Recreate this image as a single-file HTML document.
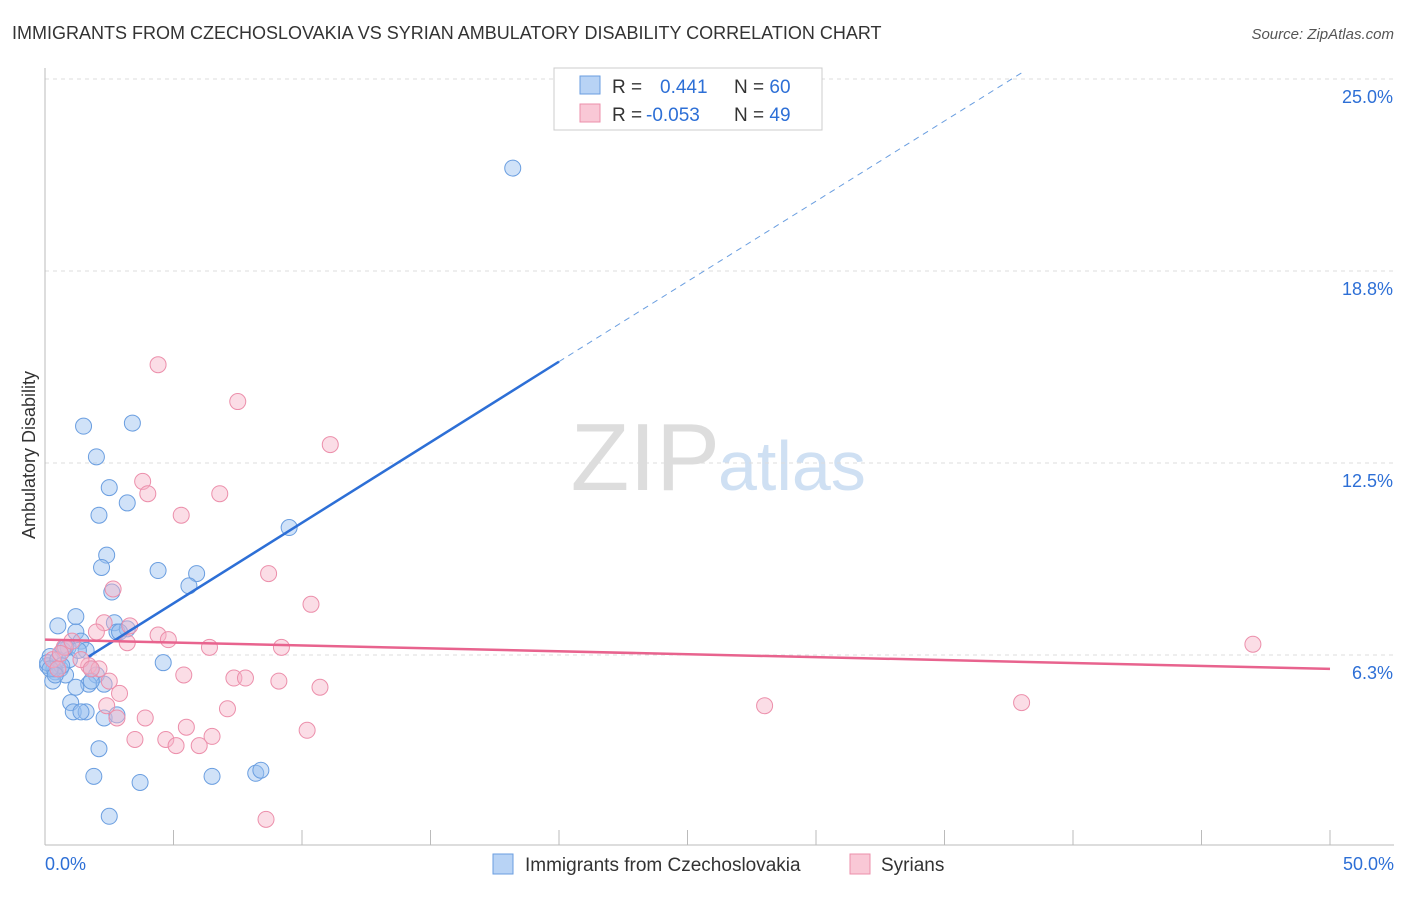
<!DOCTYPE html>
<html><head><meta charset="utf-8"><style>
body{margin:0;background:#fff;font-family:"Liberation Sans",sans-serif;}
svg text{font-family:"Liberation Sans",sans-serif;}
</style></head><body>
<svg id="c" width="1406" height="892">
<text x="12" y="39" font-size="18" fill="#333">IMMIGRANTS FROM CZECHOSLOVAKIA VS SYRIAN AMBULATORY DISABILITY CORRELATION CHART</text>
<text x="1394" y="39" font-size="15" fill="#555" font-style="italic" text-anchor="end">Source: ZipAtlas.com</text>
<text x="35" y="455" font-size="18" fill="#333" text-anchor="middle" transform="rotate(-90 35 455)">Ambulatory Disability</text>
<text x="720" y="490" font-size="96" fill="#ddd" text-anchor="end" font-family="Liberation Serif">ZIP</text>
<text x="718" y="490" font-size="70" fill="#cfe0f3">atlas</text>
<g id="grid"></g><g id="pts"></g><g id="lines"></g>
<g>
<rect x="554" y="68" width="268" height="62" fill="#fff" stroke="#ccc"/>
<rect x="580" y="76" width="20" height="18" fill="#b8d3f5" stroke="#6a9ee0"/>
<rect x="580" y="104" width="20" height="18" fill="#f9c8d6" stroke="#ec8fab"/>
<text x="612" y="93" font-size="19" fill="#333">R = <tspan fill="#2d6fd6" x="660">0.441</tspan><tspan x="734">N = </tspan><tspan fill="#2d6fd6">60</tspan></text>
<text x="612" y="121" font-size="19" fill="#333">R = <tspan fill="#2d6fd6" x="646">-0.053</tspan><tspan x="734">N = </tspan><tspan fill="#2d6fd6">49</tspan></text>
</g>
<g>
<rect x="493" y="854" width="20" height="20" fill="#b8d3f5" stroke="#6a9ee0"/>
<text x="525" y="871" font-size="19" fill="#333">Immigrants from Czechoslovakia</text>
<rect x="850" y="854" width="20" height="20" fill="#f9c8d6" stroke="#ec8fab"/>
<text x="881" y="871" font-size="19" fill="#333">Syrians</text>
</g>
</svg>
<script>
const yTicks=[6.25,12.5,18.75,25];
const yTickLabels=["6.3%","12.5%","18.8%","25.0%"];
const xTickLabels=["0.0%","50.0%"];
const blueX=[18.2,1.5,3.4,2.0,2.5,2.1,3.2,9.5,2.4,2.2,4.4,5.9,2.6,5.6,1.2,0.5,2.7,2.8,3.2,1.2,1.4,0.9,1.6,0.7,0.2,0.1,0.6,1.8,2.0,0.4,0.8,0.3,1.7,2.3,1.2,4.6,1.0,1.1,1.6,1.4,2.3,2.8,2.1,1.9,3.7,6.5,8.2,8.4,2.5,0.35,0.1,0.5,0.95,0.8,1.3,0.65,0.2,0.4,1.8,2.9];
const blueY=[22.1,13.7,13.8,12.7,11.7,10.8,11.2,10.4,9.5,9.1,9.0,8.9,8.3,8.5,7.5,7.2,7.3,7.0,7.1,7.0,6.7,6.5,6.4,6.4,6.2,5.9,5.8,5.8,5.6,5.7,5.6,5.4,5.3,5.3,5.2,6.0,4.7,4.4,4.4,4.4,4.2,4.3,3.2,2.3,2.1,2.3,2.4,2.5,1.0,5.8,6.0,6.1,6.1,6.5,6.4,5.9,5.8,5.6,5.4,7.0];
const pinkX=[4.4,7.5,11.1,3.8,4.0,6.8,5.3,8.7,10.35,2.65,2.3,3.3,2.0,4.4,4.8,3.2,6.4,9.2,0.75,1.05,47.0,1.7,5.4,7.35,7.8,9.1,10.7,2.9,2.4,7.1,28.0,38.0,3.9,2.8,5.5,10.2,3.5,4.7,5.1,6.0,6.5,8.6,0.3,0.5,2.1,1.4,1.8,0.6,2.5];
const pinkY=[15.7,14.5,13.1,11.9,11.5,11.5,10.8,8.9,7.9,8.4,7.3,7.2,7.0,6.9,6.75,6.65,6.5,6.5,6.5,6.7,6.6,5.9,5.6,5.5,5.5,5.4,5.2,5.0,4.6,4.5,4.6,4.7,4.2,4.2,3.9,3.8,3.5,3.5,3.3,3.3,3.6,0.9,6.1,5.8,5.8,6.1,5.8,6.3,5.4];
const blueLine=[[1.7,6.2],[20,15.8],[38,25.2]];
const pinkLine=[[0,6.75],[50,5.8]];
const X=v=>45+v*25.7, Y=v=>847-v*30.72;
const NS="http://www.w3.org/2000/svg";
function mk(p,t,a){const e=document.createElementNS(NS,t);for(const k in a)e.setAttribute(k,a[k]);document.getElementById(p).appendChild(e);return e;}
yTicks.forEach((t,i)=>{
 const l=mk('grid','line',{x1:45,x2:1394,y1:Y(t),y2:Y(t),stroke:'#ddd','stroke-dasharray':'4,4'});
 
 
 const tx=mk('grid','text',{x:1393,y:Y(t)+24,'font-size':18,fill:'#2d6fd6','text-anchor':'end'});
 tx.textContent=yTickLabels[i];
 
 
});
const ax=mk('grid','line',{x1:45,x2:45,y1:68,y2:845,stroke:'#bbb'});


const bx=mk('grid','line',{x1:45,x2:1394,y1:845,y2:845,stroke:'#bbb'});


for(let i=0;i<=10;i++){const t=mk('grid','line',{x1:X(i*5),x2:X(i*5),y1:830,y2:845,stroke:'#bbb'});
 
 }
[[0,'start',45],[50,'end',1394]].forEach((d,i)=>{const t=mk('grid','text',{x:d[2],y:870,'font-size':18,fill:'#2d6fd6','text-anchor':d[1]});t.textContent=xTickLabels[i];
 
 });
blueX.forEach((v,i)=>{const c=mk('pts','circle',{cx:X(v),cy:Y(blueY[i]),r:8,fill:'rgba(150,190,240,0.45)',stroke:'#6a9ee0','stroke-width':1});
 
 });
pinkX.forEach((v,i)=>{const c=mk('pts','circle',{cx:X(v),cy:Y(pinkY[i]),r:8,fill:'rgba(247,180,200,0.45)',stroke:'#ec8fab','stroke-width':1});
 
 });
const b1=mk('lines','line',{x1:X(blueLine[0][0]),y1:Y(blueLine[0][1]),x2:X(blueLine[1][0]),y2:Y(blueLine[1][1]),stroke:'#2d6fd6','stroke-width':2.5});


const b2=mk('lines','line',{x1:X(blueLine[1][0]),y1:Y(blueLine[1][1]),x2:X(blueLine[2][0]),y2:Y(blueLine[2][1]),stroke:'#6a9ee0','stroke-width':1,'stroke-dasharray':'6,5'});


const p1=mk('lines','line',{x1:X(pinkLine[0][0]),y1:Y(pinkLine[0][1]),x2:X(pinkLine[1][0]),y2:Y(pinkLine[1][1]),stroke:'#e8638e','stroke-width':2.5});


</script>
</body></html>
